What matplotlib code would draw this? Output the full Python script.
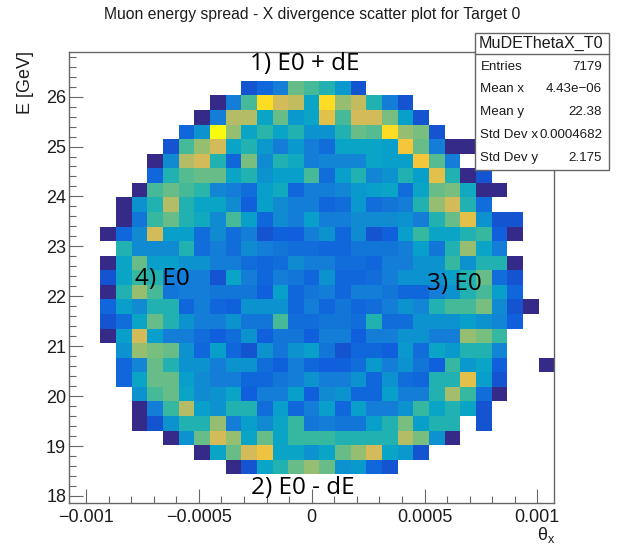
import numpy as np
import matplotlib
matplotlib.use("Agg")
import matplotlib.pyplot as plt
from matplotlib.colors import LinearSegmentedColormap
from matplotlib.patches import Rectangle
from matplotlib.ticker import MultipleLocator, FixedLocator, FixedFormatter

W, H = 624, 545

# Estimated bin contents, top row (highest E) first; leading zeros = empty bins
row_00 = [0]*9 + [5,7,10,24,22,19,14,5]
row_01 = [0]*7 + [1,10,22,38,31,30,16,38,27,30,19,10,5]
row_02 = [0]*6 + [1,10,29,29,16,24,14,16,33,22,31,31,25,15,5]
row_03 = [0]*5 + [7,13,41,27,16,20,16,19,13,13,19,24,23,38,27,25,5]
row_04 = [0]*4 + [5,22,27,31,16,19,14,10,14,10,8,16,16,16,15,35,24,10,1,1]
row_05 = [0]*3 + [1,12,29,31,19,7,25,12,19,17,10,11,11,11,16,15,15,35,23,10]
row_06 = [0]*3 + [7,19,23,24,24,16,19,13,15,15,22,8,15,19,11,13,19,15,33,19,1,5]
row_07 = [0]*2 + [1,22,24,22,20,11,10,8,15,17,7,10,10,11,14,15,16,8,16,24,25,17,1,1]
row_08 = [0]*1 + [1,13,19,29,19,16,16,12,6,15,12,10,10,7,8,14,8,9,10,19,27,31,19,8]
row_09 = [0]*1 + [1,9,21,24,19,17,12,22,15,7,12,10,15,10,10,12,12,12,13,10,19,24,33,13,5,5]
row_10 = [1,7,12,31,15,15,8,12,8,10,5,6,6,10,13,7,12,5,6,15,21,16,16,19,21,6,1]
row_11 = [0]*1 + [19,12,12,12,19,8,10,8,12,10,9,8,8,7,7,9,9,9,10,15,9,19,27,16,10]
row_12 = [1,16,24,15,15,13,13,10,10,8,7,8,12,10,10,8,8,7,10,10,13,13,21,13,19,19,1]
row_13 = [5,16,21,19,10,10,10,5,16,10,7,10,9,7,13,7,7,8,10,13,13,13,15,19,24,8,5]
row_14 = [1,19,27,22,9,10,10,9,9,9,6,15,7,9,10,7,10,10,9,7,7,10,13,19,22,15,7]
row_15 = [7,15,12,19,19,7,10,7,6,13,13,13,7,10,7,9,7,8,10,13,11,19,22,22,25,12,5,1]
row_16 = [5,8,16,24,19,13,10,10,13,9,9,22,8,8,9,9,8,19,8,8,13,13,13,15,13,11,6]
row_17 = [1,15,31,15,10,10,8,6,8,13,6,9,9,6,10,10,6,10,10,13,13,10,10,27,25,21]
row_18 = [0]*1 + [13,27,25,24,13,7,15,7,5,13,9,13,15,9,5,7,7,6,14,8,16,14,19,19,11]
row_19 = [0]*1 + [7,11,24,19,13,13,10,13,13,8,6,10,7,6,6,8,14,10,13,9,6,21,14,16,6,0,0,1]
row_20 = [0]*1 + [7,16,24,24,15,12,10,10,7,7,9,10,13,10,10,13,7,13,8,7,19,19,33,15,5]
row_21 = [0]*2 + [13,22,24,16,12,13,16,6,10,10,15,6,12,13,7,7,15,10,10,19,28,21,8,1]
row_22 = [0]*2 + [1,10,21,29,15,13,19,19,8,15,7,10,15,7,15,10,10,13,21,16,19,16,5]
row_23 = [0]*2 + [1,5,13,19,19,27,10,15,12,16,21,9,10,9,9,15,19,25,15,19,19,0,5]
row_24 = [0]*4 + [1,13,24,31,27,16,24,16,21,21,21,19,19,19,19,29,25,13,1]
row_25 = [0]*6 + [1,16,24,31,34,16,16,13,16,24,27,31,16,14,5]
row_26 = [0]*8 + [1,5,16,19,24,27,24,13,14,7,5]

rows = [row_00,row_01,row_02,row_03,row_04,row_05,row_06,row_07,row_08,row_09,
        row_10,row_11,row_12,row_13,row_14,row_15,row_16,row_17,row_18,row_19,
        row_20,row_21,row_22,row_23,row_24,row_25,row_26]

x_ticks = [-0.001, -0.0005, 0, 0.0005, 0.001]
x_tick_labels = ["\u22120.001", "\u22120.0005", "0", "0.0005", "0.001"]
y_ticks = [18, 19, 20, 21, 22, 23, 24, 25, 26]
stats_names = ["Entries", "Mean x", "Mean y", "Std Dev x", "Std Dev y"]
stats_values = ["7179", "4.43e\u221206", "22.38", "0.0004682", "2.175"]
stats_title = "MuDEThetaX_T0"
annotations = ["1) E0 + dE", "2) E0 - dE", "3) E0", "4) E0"]

XLIM = (-0.001075, 0.001075)
YLIM = (17.85, 26.9)
NBINS = 31

bird = LinearSegmentedColormap.from_list("bird", [
    (0.0,   (0.2082,0.1664,0.5293)),
    (0.115, (0.0592,0.3599,0.8684)),
    (0.235, (0.0780,0.5041,0.8385)),
    (0.365, (0.0232,0.6419,0.7914)),
    (0.49,  (0.1802,0.7178,0.6425)),
    (0.625, (0.5301,0.7492,0.4662)),
    (0.75,  (0.8186,0.7328,0.3499)),
    (0.875, (0.9956,0.7862,0.1968)),
    (1.0,   (0.9764,0.9832,0.0539))])
bird.set_bad("white")

grid = np.zeros((NBINS, NBINS))
for i, r in enumerate(rows):
    # rows occupy bins 2..28 from the top, columns start at bin 2
    grid[NBINS - 3 - i, 2:2+len(r)] = r
masked = np.ma.masked_where(grid == 0, grid)

plt.rcParams['font.family'] = ['Liberation Sans', 'DejaVu Sans']
fig = plt.figure(figsize=(W/100, H/100), dpi=100, facecolor="white")
L, R, T, B = 69, 554.3, 51.7, 503.4
ax = fig.add_axes([L/W, 1-B/H, (R-L)/W, (B-T)/H])
xe = np.linspace(XLIM[0], XLIM[1], NBINS+1)
ye = np.linspace(YLIM[0], YLIM[1], NBINS+1)
ax.pcolormesh(xe, ye, masked, cmap=bird, vmin=1, vmax=41)
ax.set_xlim(XLIM); ax.set_ylim(YLIM)

GREY = "#666666"
INK = "#1c1c1c"
for s in ax.spines.values():
    s.set_color(GREY); s.set_linewidth(1.0)
ax.xaxis.set_major_locator(FixedLocator(x_ticks))
ax.xaxis.set_major_formatter(FixedFormatter(x_tick_labels))
ax.xaxis.set_minor_locator(MultipleLocator(0.0001))
ax.yaxis.set_major_locator(FixedLocator(y_ticks))
ax.yaxis.set_minor_locator(MultipleLocator(0.2))
ax.tick_params(which="major", direction="in", length=10, width=0.8, color=GREY,
               labelsize=13, labelcolor=INK)
ax.tick_params(which="minor", direction="in", length=5, width=0.8, color=GREY)
ax.tick_params(axis="x", which="major", pad=4)
ax.tick_params(axis="y", which="major", pad=2)

def px(x, y):
    return x/W, 1-y/H

fig.text(*px(312.5, 14.5), "Muon energy spread - X divergence scatter plot for Target 0",
         ha="center", va="center", fontsize=11.3, color=INK)
fig.text(*px(26, 114), "E [GeV]", rotation=90, ha="center", va="bottom", fontsize=13, color=INK)
fig.text(*px(546, 535), r"$\mathregular{\theta_x}$", ha="center", va="center", fontsize=13, color=INK)

note_pos = [(305, 64.5), (303, 488), (454, 284), (162.5, 279)]
for label, (xp, yp) in zip(annotations, note_pos):
    fig.text(*px(xp, yp), label, ha="center", va="center", fontsize=17.5,
             family=["Open Sans", "DejaVu Sans"], color="black")

# Stats box
bx0, bx1, by0, by1, sep = 474.7, 609.3, 33.3, 170, 54.3
fig.add_artist(Rectangle(px(bx0, by1), (bx1-bx0)/W, (by1-by0)/H, transform=fig.transFigure,
                         facecolor="white", edgecolor=GREY, linewidth=1.0, zorder=5))
fig.add_artist(plt.Line2D([bx0/W, bx1/W], [1-sep/H]*2, transform=fig.transFigure,
                          color=GREY, lw=1.0, zorder=6))
fig.text(*px(541, 43.5), stats_title, ha="center", va="center", fontsize=11.6, color=INK, zorder=7)
row_y = [66.5, 89, 112, 135.5, 158]
for name, val, yp in zip(stats_names, stats_values, row_y):
    fig.text(*px(480.5, yp), name, ha="left", va="center", fontsize=9.6, color=INK, zorder=7)
    fig.text(*px(602, yp), val, ha="right", va="center", fontsize=9.6, color=INK, zorder=7)

fig.savefig("out.png", dpi=100)
